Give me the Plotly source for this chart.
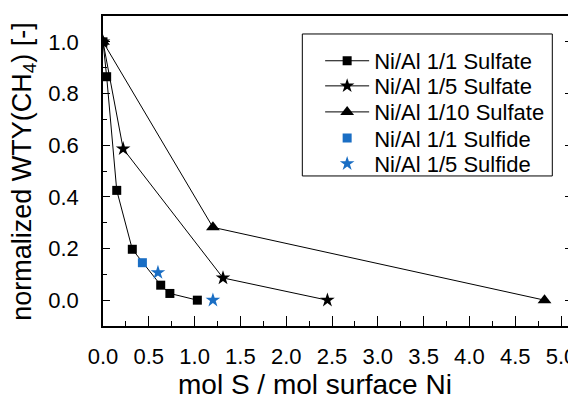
import plotly.graph_objects as go

# Data
x_11_sulfate = [0.0, 0.04, 0.15, 0.32, 0.63, 0.73, 1.03]
y_11_sulfate = [1.0, 0.865, 0.425, 0.197, 0.058, 0.026, 0.0]

x_15_sulfate = [0.0, 0.22, 1.31, 2.45]
y_15_sulfate = [1.0, 0.586, 0.086, 0.0]

x_110_sulfate = [0.0, 1.2, 4.82]
y_110_sulfate = [1.0, 0.282, 0.0]

x_11_sulfide = [0.43]
y_11_sulfide = [0.145]

x_15_sulfide = [0.6, 1.2]
y_15_sulfide = [0.107, 0.0]

x_ticks = [0, 0.5, 1, 1.5, 2, 2.5, 3, 3.5, 4, 4.5, 5]
y_ticks = [0.0, 0.2, 0.4, 0.6, 0.8, 1.0]

x_title = "mol S / mol surface Ni"
y_title = "normalized WTY(CH<sub>4</sub>) [-]"

BLUE = "#1a6ec4"
FONT = "Liberation Sans, Arial, sans-serif"

legend_ids = ["legend", "legend2", "legend3", "legend4", "legend5"]
legend_rows = [0.855, 0.774, 0.690, 0.606, 0.523]

fig = go.Figure()
fig.add_trace(go.Scatter(x=x_11_sulfate, y=y_11_sulfate, mode="lines+markers",
                         name="Ni/Al 1/1 Sulfate", legend=legend_ids[0],
                         line=dict(color="black", width=1),
                         marker=dict(symbol="square", size=9, color="black")))
fig.add_trace(go.Scatter(x=x_15_sulfate, y=y_15_sulfate, mode="lines+markers",
                         name="Ni/Al 1/5 Sulfate", legend=legend_ids[1],
                         line=dict(color="black", width=1),
                         marker=dict(symbol="star", size=11, color="black")))
fig.add_trace(go.Scatter(x=x_110_sulfate, y=y_110_sulfate, mode="lines+markers",
                         name="Ni/Al 1/10 Sulfate", legend=legend_ids[2],
                         line=dict(color="black", width=1),
                         marker=dict(symbol="triangle-up", size=12, color="black")))
fig.add_trace(go.Scatter(x=x_11_sulfide, y=y_11_sulfide, mode="markers",
                         name="Ni/Al 1/1 Sulfide", legend=legend_ids[3],
                         marker=dict(symbol="square", size=9, color=BLUE)))
fig.add_trace(go.Scatter(x=x_15_sulfide, y=y_15_sulfide, mode="markers",
                         name="Ni/Al 1/5 Sulfide", legend=legend_ids[4],
                         marker=dict(symbol="star", size=11, color=BLUE)))

legend_layout = {}
for lid, ly in zip(legend_ids, legend_rows):
    legend_layout[lid] = dict(x=0.463, y=ly, xanchor="left", yanchor="middle",
                              bgcolor="rgba(0,0,0,0)", borderwidth=0,
                              itemwidth=44,
                              font=dict(size=22, family=FONT))

# page body has an 8px default margin, so the figure is offset by 8px
fig.update_layout(
    width=568, height=393,
    margin=dict(l=95, r=0, t=8, b=75),
    paper_bgcolor="white", plot_bgcolor="white",
    font=dict(family=FONT, color="black", size=22),
    showlegend=True,
    **legend_layout,
    xaxis=dict(range=[0, 5.12], tickvals=x_ticks,
               ticktext=[f"{v:.1f}" for v in x_ticks],
               ticks="inside", ticklen=10, tickwidth=1, tickcolor="black",
               minor=dict(dtick=0.25, ticks="inside", ticklen=5, tickcolor="black", tickwidth=1),
               showline=True, linecolor="black", linewidth=1.5, mirror=True,
               showgrid=False, zeroline=False,
               ticklabelstandoff=10, ticklabeloverflow="allow",
               tickfont=dict(size=22)),
    yaxis=dict(range=[-0.1, 1.1], tickvals=y_ticks,
               ticktext=[f"{v:.1f}" for v in y_ticks],
               ticks="inside", ticklen=7, tickwidth=1, tickcolor="black",
               minor=dict(dtick=0.1, ticks="inside", ticklen=4, tickcolor="black", tickwidth=1),
               showline=True, linecolor="black", linewidth=1.5, mirror="ticks",
               showgrid=False, zeroline=False,
               ticklabelstandoff=18,
               tickfont=dict(size=22)),
    shapes=[dict(type="rect", xref="paper", yref="paper",
                 x0=0.425, x1=0.958, y0=0.484, y1=0.942,
                 line=dict(color="black", width=1), fillcolor="rgba(0,0,0,0)",
                 layer="above")],
    annotations=[
        dict(text=x_title, xref="paper", yref="paper", x=0.452, y=-0.19,
             xanchor="center", yanchor="middle", showarrow=False,
             font=dict(size=28, family=FONT)),
        dict(text=y_title, xref="paper", yref="paper", x=-0.169, y=0.5,
             xanchor="center", yanchor="middle", showarrow=False, textangle=-90,
             font=dict(size=27, family=FONT)),
    ],
)

fig.write_html("out.html")
